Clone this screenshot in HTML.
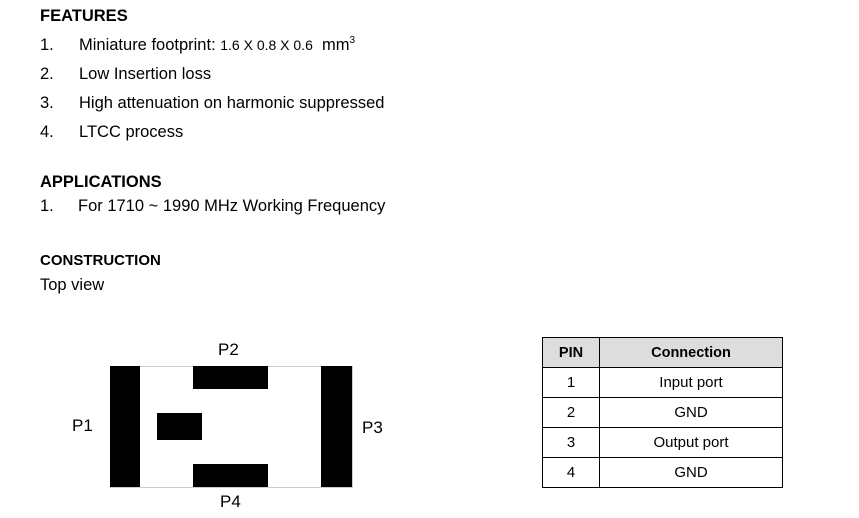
<!DOCTYPE html>
<html><head><meta charset="utf-8"><style>
html,body{margin:0;padding:0;background:#fff;}
body{width:859px;height:518px;position:relative;overflow:hidden;font-family:"Liberation Sans",Arial,sans-serif;color:#000;}
.t{position:absolute;white-space:nowrap;font-size:16.5px;line-height:18px;}
.b{font-weight:bold;}
.r{position:absolute;background:#000;}
table{position:absolute;left:542px;top:337px;border-collapse:collapse;font-size:15px;}
td,th{border:1px solid #000;height:29px;padding:0;text-align:center;}
th{background:#ddd;font-weight:bold;height:29px;font-size:14.5px;}
</style></head><body>
<div class="t b" style="left:40px;top:7px;">FEATURES</div>
<div class="t" style="left:40px;top:36px;">1.</div>
<div class="t" style="left:79px;top:36px;">Miniature footprint: <span style="font-size:14px">1.6 X 0.8 X 0.6</span>&nbsp; mm<sup style="font-size:10px;vertical-align:7px;line-height:0">3</sup></div>
<div class="t" style="left:40px;top:65px;">2.</div>
<div class="t" style="left:79px;top:65px;">Low Insertion loss</div>
<div class="t" style="left:40px;top:94px;">3.</div>
<div class="t" style="left:79px;top:94px;">High attenuation on harmonic suppressed</div>
<div class="t" style="left:40px;top:123px;">4.</div>
<div class="t" style="left:79px;top:123px;">LTCC process</div>
<div class="t b" style="left:40px;top:173px;">APPLICATIONS</div>
<div class="t" style="left:40px;top:197px;">1.</div>
<div class="t" style="left:78px;top:197px;">For 1710 ~ 1990 MHz Working Frequency</div>
<div class="t b" style="left:40px;top:252px;font-size:15px;">CONSTRUCTION</div>
<div class="t" style="left:40px;top:276px;">Top view</div>

<div style="position:absolute;left:110px;top:366px;width:241px;height:120px;border:1px solid #ccc;"></div>
<div class="r" style="left:110px;top:366px;width:30px;height:121px;"></div>
<div class="r" style="left:321px;top:366px;width:31px;height:121px;"></div>
<div class="r" style="left:193px;top:366px;width:75px;height:23px;"></div>
<div class="r" style="left:193px;top:464px;width:75px;height:23px;"></div>
<div class="r" style="left:157px;top:413px;width:45px;height:27px;"></div>
<div class="t" style="left:218px;top:340px;font-size:17px;line-height:20px;">P2</div>
<div class="t" style="left:72px;top:416px;font-size:17px;line-height:20px;">P1</div>
<div class="t" style="left:362px;top:418px;font-size:17px;line-height:20px;">P3</div>
<div class="t" style="left:220px;top:492px;font-size:17px;line-height:20px;">P4</div>

<table>
<tr><th style="width:56px;">PIN</th><th style="width:182px;">Connection</th></tr>
<tr><td>1</td><td>Input port</td></tr>
<tr><td>2</td><td>GND</td></tr>
<tr><td>3</td><td>Output port</td></tr>
<tr><td>4</td><td>GND</td></tr>
</table>
</body></html>
